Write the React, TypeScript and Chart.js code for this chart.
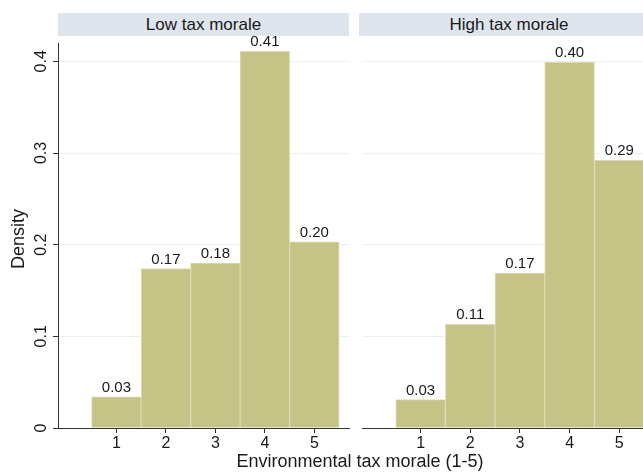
import React, { useEffect, useRef } from "react";
import { Chart, registerables } from "chart.js";
Chart.register(...registerables);

const categories = [1, 2, 3, 4, 5];
const lowValues = [0.034, 0.174, 0.18, 0.411, 0.203];
const highValues = [0.031, 0.113, 0.169, 0.399, 0.292];
const yTicks = [0, 0.1, 0.2, 0.3, 0.4];
const yTickLabels = ["0", "0.1", "0.2", "0.3", "0.4"];
const panelTitles = ["Low tax morale", "High tax morale"];
const xTitle = "Environmental tax morale (1-5)";
const yTitle = "Density";

const FONT = "'Liberation Sans', Arial, Helvetica, sans-serif";
const BAR_FILL = "#c6c386";
const BAR_EDGE = "#dcdab0";
const GRID = "#e9f0f2";
const AXIS = "#333333";

const labelPlugin = {
  id: "valueLabels",
  afterDatasetsDraw(chart: any) {
    const ctx = chart.ctx;
    const meta = chart.getDatasetMeta(0);
    const data = chart.data.datasets[0].data;
    ctx.save();
    ctx.font = `15px ${FONT}`;
    ctx.fillStyle = "#1a1a1a";
    ctx.textAlign = "center";
    ctx.textBaseline = "alphabetic";
    meta.data.forEach((el: any, i: number) => {
      const v = data[i].y;
      ctx.fillText(v.toFixed(2), el.x, el.y - 5);
    });
    ctx.restore();
  },
};

const yLabelPlugin = {
  id: "yLabels",
  afterDraw(chart: any) {
    if (!chart.options.plugins.yLabels?.show) return;
    const ctx = chart.ctx;
    const ys = chart.scales.y;
    ctx.save();
    ctx.font = `16px ${FONT}`;
    ctx.fillStyle = "#1a1a1a";
    ctx.textAlign = "center";
    ctx.textBaseline = "middle";
    yTicks.forEach((t, i) => {
      const py = ys.getPixelForValue(t);
      ctx.save();
      ctx.translate(42, py);
      ctx.rotate(-Math.PI / 2);
      ctx.fillText(yTickLabels[i], 0, 0);
      ctx.restore();
    });
    ctx.font = `18px ${FONT}`;
    ctx.save();
    ctx.translate(19, 239);
    ctx.rotate(-Math.PI / 2);
    ctx.fillText(yTitle, 0, 0);
    ctx.restore();
    ctx.restore();
  },
};

function Panel({ values, left, width, yAxisWidth, showY }: any) {
  const ref = useRef<HTMLCanvasElement>(null);
  useEffect(() => {
    const chart = new Chart(ref.current!, {
      type: "bar",
      data: {
        datasets: [
          {
            data: categories.map((c, i) => ({ x: c, y: values[i] })),
            backgroundColor: BAR_FILL,
            borderColor: BAR_EDGE,
            borderWidth: 1,
            barPercentage: 1,
            categoryPercentage: 1,
          },
        ],
      },
      options: {
        animation: false,
        responsive: false,
        maintainAspectRatio: false,
        layout: { padding: { top: 43, right: 0, left: 0, bottom: 0 } },
        plugins: {
          legend: { display: false },
          tooltip: { enabled: false },
          yLabels: { show: showY },
        } as any,
        scales: {
          x: {
            type: "linear",
            offset: false,
            min: -0.18,
            max: 5.72,
            afterBuildTicks: (s: any) => {
              s.ticks = categories.map((v) => ({ value: v }));
            },
            afterFit: (s: any) => {
              s.height = 47;
            },
            grid: {
              offset: false,
              drawOnChartArea: false,
              drawTicks: true,
              tickLength: 5,
              color: AXIS,
            },
            border: { display: true, color: AXIS, width: 1 },
            ticks: {
              color: "#1a1a1a",
              font: { family: FONT, size: 16 },
              padding: 1,
              maxRotation: 0,
              callback: (v: any) => String(v),
            },
          },
          y: {
            min: 0,
            max: 0.42,
            afterBuildTicks: (s: any) => {
              s.ticks = yTicks.map((v) => ({ value: v }));
            },
            afterFit: (s: any) => {
              s.width = yAxisWidth;
            },
            grid: {
              color: (c: any) => (c.tick && c.tick.value === 0 ? "rgba(0,0,0,0)" : GRID),
              tickColor: AXIS,
              drawTicks: showY,
              tickLength: 5,
              lineWidth: 1,
            },
            border: { display: showY, color: AXIS, width: 1 },
            ticks: { display: false },
          },
        },
      },
      plugins: [labelPlugin, yLabelPlugin],
    });
    return () => chart.destroy();
  }, []);
  return (
    <canvas
      ref={ref}
      width={width}
      height={475}
      style={{ position: "absolute", left, top: 0, width, height: 475 }}
    />
  );
}

const stripStyle = (left: number, width: number): React.CSSProperties => ({
  position: "absolute",
  left,
  top: 13,
  width,
  height: 23,
  background: "#dfe5ec",
  color: "#1a1a1a",
  font: `17px ${FONT}`,
  lineHeight: "23px",
  textAlign: "center",
});

export default function App() {
  return (
    <div
      style={{
        position: "fixed",
        left: 0,
        top: 0,
        width: 643,
        height: 475,
        overflow: "hidden",
        background: "#ffffff",
      }}
    >
      <Panel values={lowValues} left={0} width={350} yAxisWidth={58} showY={true} />
      <Panel values={highValues} left={355} width={300} yAxisWidth={7} showY={false} />
      <div style={stripStyle(58, 291)}>{panelTitles[0]}</div>
      <div style={stripStyle(359, 300)}>{panelTitles[1]}</div>
      <div
        style={{
          position: "absolute",
          left: 0,
          width: 720,
          top: 451,
          textAlign: "center",
          font: `18px ${FONT}`,
          lineHeight: "21px",
          color: "#1a1a1a",
        }}
      >
        {xTitle}
      </div>
    </div>
  );
}
